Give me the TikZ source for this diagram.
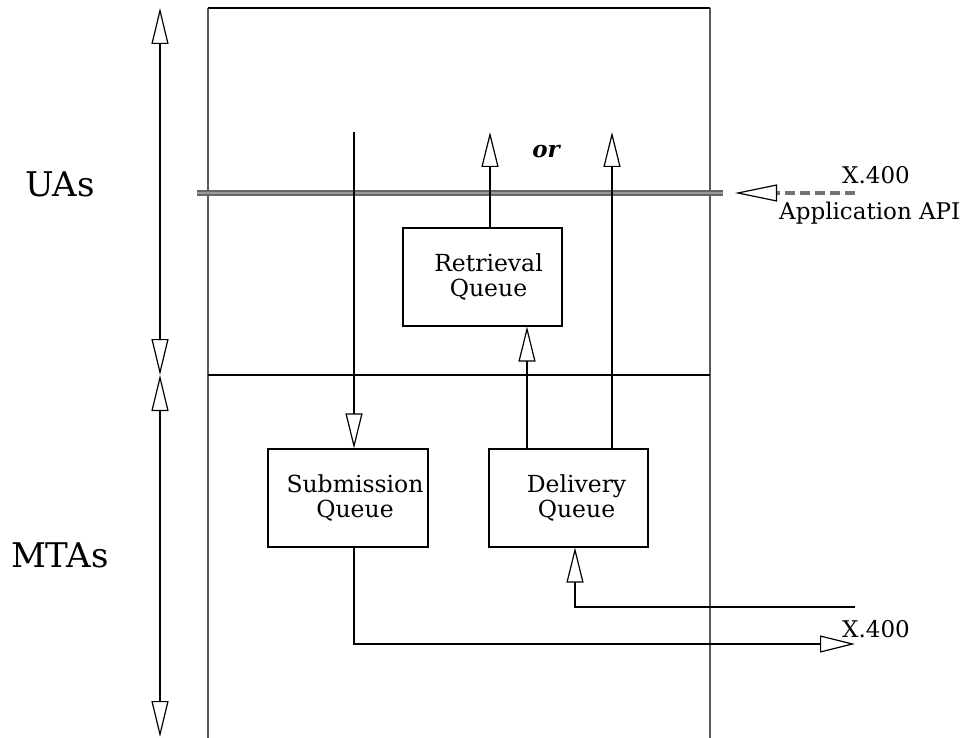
\documentclass[tikz,border=0pt]{standalone}
\usepackage{fontspec}
\setmainfont{DejaVu Serif}
\usetikzlibrary{arrows.meta}
\begin{document}
\begin{tikzpicture}[x=1pt,y=-1pt,
  thin line/.style={line width=1.2pt, black},
  border/.style={line width=1.2pt, black!65},
  qbox/.style={draw, line width=1.2pt, minimum width=159pt, minimum height=98pt, inner sep=0pt},
  qtext/.style={align=center, font=\fontsize{23.5}{24.5}\selectfont, inner sep=0pt},
  lbl/.style={font=\fontsize{23}{23}\selectfont, inner sep=0pt},
  big/.style={font=\fontsize{34}{34}\selectfont, inner sep=0pt},
  tip/.style={-{Triangle[open, length=35pt, width=17pt]}},
  dbltip/.style={{Triangle[open, length=36pt, width=17pt]}-{Triangle[open, length=36pt, width=17pt]}},
  iface/.style={draw=black!60, line width=2pt, double=black!40, double distance=1.6pt},
  apiline/.style={draw=black!55, line width=4.5pt, dash pattern=on 10pt off 5pt,
    -{Triangle[open, length=42pt, width=17pt, line width=1.2pt, color=black, fill=white]}}
]
\useasboundingbox (0,0) rectangle (975,738);
% frame
\coordinate (tl) at (208,8);
\coordinate (tr) at (710,8);
\coordinate (bl) at (208,738);
\coordinate (br) at (710,738);
\coordinate (ml) at (208,375);
\coordinate (mr) at (710,375);
\draw[border] (bl) -- (tl);
\draw[border] (br) -- (tr);
\draw[thin line] (tl) -- (tr);
\draw[thin line] (ml) -- (mr);
% interface line
\coordinate (ifl) at (197,193);
\coordinate (ifr) at (723,193);
\draw[iface] (ifl) -- (ifr);
% left scale
\coordinate (stop) at (160,8);
\coordinate (smid) at (160,375);
\coordinate (sbot) at (160,737);
\draw[thin line, dbltip] (stop) -- (smid);
\draw[thin line, dbltip] (smid) -- (sbot);
\node[big, anchor=base west] (uas) at (25,197) {UAs};
\node[big, anchor=base east] (mtas) at (109,567) {MTAs};
% boxes
\node[qbox] (ret) at (482.5,277) {};
\node[qtext] (rett) at (488.5,277) {Retrieval\\Queue};
\node[qbox, minimum width=160pt] (sub) at (348,498) {};
\node[qtext] (subt) at (355,498) {Submission\\Queue};
\node[qbox] (del) at (568.5,498) {};
\node[qtext] (delt) at (576.5,498) {Delivery\\Queue};
% connectors
\coordinate (subin) at (354,132);
\draw[thin line, tip] (subin) -- (subin |- sub.north);
\coordinate (retup) at (490,132);
\draw[thin line, tip] (retup |- ret.north) -- (retup);
\coordinate (delup) at (612,132);
\draw[thin line, tip] (delup |- del.north) -- (delup);
\coordinate (delret) at (527,400);
\draw[thin line, tip] (delret |- del.north) -- (delret |- ret.south);
\coordinate (xin) at (855,607);
\coordinate (delin) at (575,607);
\draw[thin line, tip] (xin) -- (delin) -- (delin |- del.south);
\coordinate (xout) at (855,644);
\coordinate (subout) at (354,644);
\draw[thin line, tip] (subout |- sub.south) -- (subout) -- (xout);
\node[font=\fontsize{23}{23}\selectfont\bfseries\itshape, inner sep=0pt] (or) at (546,152) {or};
% API
\coordinate (apistart) at (855,193);
\coordinate (apitip) at (735,193);
\draw[apiline] (apistart) -- (apitip);
\node[lbl, anchor=base west] (x400a) at (842,184) {X.400};
\node[lbl, anchor=base west] (api) at (779,220) {Application API};
\node[lbl, anchor=base west] (x400b) at (842,637) {X.400};
\end{tikzpicture}
\end{document}
